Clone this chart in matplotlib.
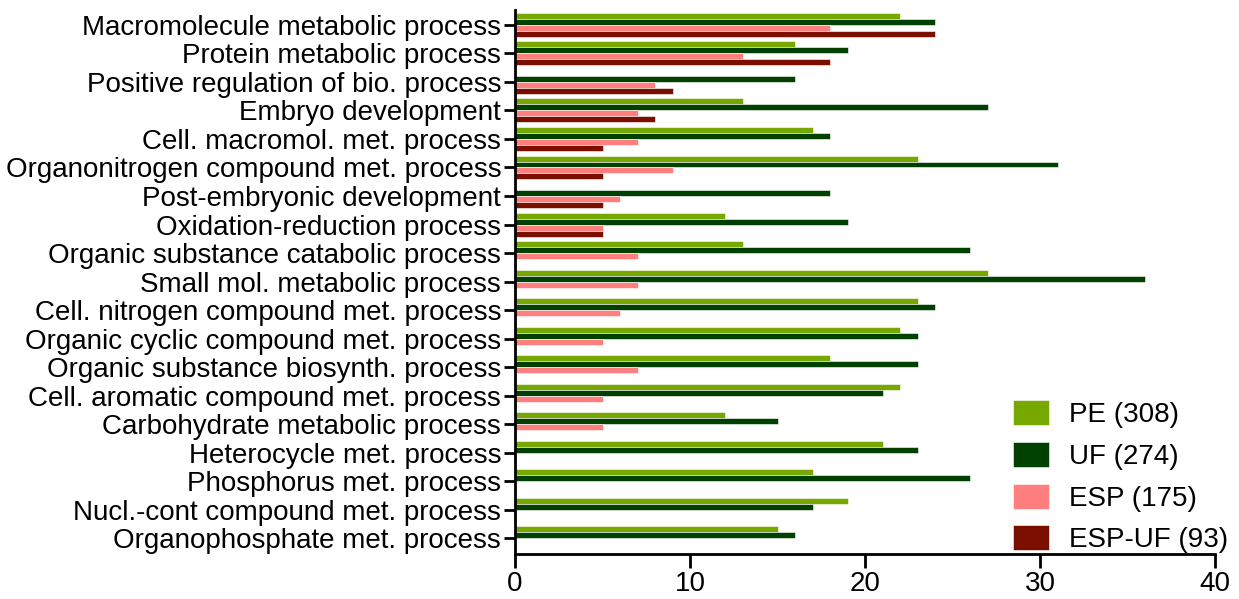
import matplotlib
matplotlib.use("Agg")
import matplotlib.pyplot as plt
import numpy as np

categories = [
    "Macromolecule metabolic process",
    "Protein metabolic process",
    "Positive regulation of bio. process",
    "Embryo development",
    "Cell. macromol. met. process",
    "Organonitrogen compound met. process",
    "Post-embryonic development",
    "Oxidation-reduction process",
    "Organic substance catabolic process",
    "Small mol. metabolic process",
    "Cell. nitrogen compound met. process",
    "Organic cyclic compound met. process",
    "Organic substance biosynth. process",
    "Cell. aromatic compound met. process",
    "Carbohydrate metabolic process",
    "Heterocycle met. process",
    "Phosphorus met. process",
    "Nucl.-cont compound met. process",
    "Organophosphate met. process",
]
pe = [22, 16, 0, 13, 17, 23, 0, 12, 13, 27, 23, 22, 18, 22, 12, 21, 17, 19, 15]
uf = [24, 19, 16, 27, 18, 31, 18, 19, 26, 36, 24, 23, 23, 21, 15, 23, 26, 17, 16]
esp = [18, 13, 8, 7, 7, 9, 6, 5, 7, 7, 6, 5, 7, 5, 5, 0, 0, 0, 0]
esp_uf = [24, 18, 9, 8, 5, 5, 5, 5, 0, 0, 0, 0, 0, 0, 0, 0, 0, 0, 0]
series_labels = ["PE (308)", "UF (274)", "ESP (175)", "ESP-UF (93)"]
colors = ["#77A800", "#004000", "#FF7F7F", "#7A0F00"]
xticks = [0, 10, 20, 30, 40]

plt.rcParams["font.family"] = ["Liberation Sans", "DejaVu Sans"]

fig = plt.figure(figsize=(12.39, 5.99), dpi=100)
ax = fig.add_axes([0.4157, 0.0752, 0.565, 0.908])

n = len(categories)
y = np.arange(n)
h = 0.21
series = [pe, uf, esp, esp_uf]
for i, (vals, lab, col) in enumerate(zip(series, series_labels, colors)):
    offs = (i - 1.5) * h
    ax.barh(y + offs, vals, height=h, color=col, label=lab,
            edgecolor="white", linewidth=0.4)

ax.set_ylim(n - 0.45, -0.52)
ax.set_xlim(0, 40)
ax.set_yticks(y)
ax.set_yticklabels(categories, fontsize=20)
ax.set_xticks(xticks)
ax.set_xticklabels([str(t) for t in xticks], fontsize=20)
for s in ["top", "right"]:
    ax.spines[s].set_visible(False)
for s in ["left", "bottom"]:
    ax.spines[s].set_linewidth(2)
ax.tick_params(axis="y", length=8, width=2, pad=2)
ax.tick_params(axis="x", length=10, width=2, pad=2)

leg = ax.legend(loc="lower right", bbox_to_anchor=(1.055, -0.045), frameon=False,
                fontsize=20, handlelength=1.3, handleheight=1.0,
                labelspacing=0.5, handletextpad=0.75)

fig.savefig("out.png", dpi=100)
